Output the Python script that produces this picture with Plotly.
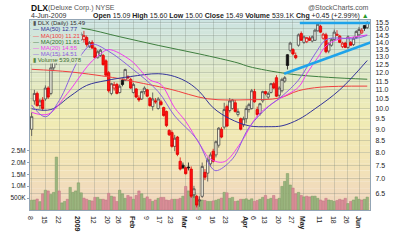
import math
import plotly.graph_objects as go

# ---------------- data ----------------
tick_idx = [0, 5, 10, 17, 23, 28, 32, 37, 42, 47, 51, 56, 61, 66, 71, 78, 81, 85, 90, 95, 99, 105, 110, 115, 119]
tick_text = ['8', '15', '22', '<b>2009</b>', '12', '20', '26', '<b>Feb</b>', '9', '17', '23', '<b>Mar</b>',
             '9', '16', '23', '<b>Apr</b>', '6', '13', '20', '27', '<b>May</b>', '11', '18', '26', '<b>Jun</b>']

opens = [9.0, 10.4, 10.8, 10.15, 10.45, 10.5, 11.1, 10.8, 12.3, 12.7, 13.2, 12.9, 13.2, 13.5, 13.0, 13.5, 13.8,
         14.0, 14.2, 14.2, 14.35, 13.7, 14.0, 13.6, 12.95, 13.1, 13.1, 12.75, 12.0, 10.8, 11.1, 11.3, 10.85, 11.55,
         11.55, 11.75, 11.6, 10.85, 11.05, 10.55, 10.5, 10.9, 11.0, 10.55, 10.1, 10.4, 10.0, 10.35, 10.05, 9.85,
         8.95, 8.85, 8.25, 8.65, 7.65, 7.5, 7.4, 7.43, 7.35, 6.45, 6.4, 6.25, 6.4, 7.23, 7.2, 7.55, 8.05, 7.9, 8.3,
         9.0, 9.1, 10.1, 9.9, 10.0, 10.3, 9.7, 9.5, 9.2, 9.5, 9.95, 10.0, 10.9, 9.95, 9.75, 10.4, 10.9, 10.6,
         10.85, 11.35, 11.7, 10.7, 10.95, 11.5, 13.15, 13.45, 13.5, 13.1, 13.8, 14.65, 14.0, 14.05, 14.3, 14.1,
         14.15, 14.85, 15.2, 14.3, 14.55, 13.4, 13.8, 14.2, 14.5, 14.45, 13.7, 13.95, 13.65, 14.0, 13.85, 14.35,
         14.55, 14.7, 15.25, 15.09]
highs = [9.8, 11.0, 10.9, 10.5, 10.6, 11.25, 11.2, 12.6, 12.9, 13.4, 13.5, 13.3, 13.6, 13.6, 13.6, 13.9, 14.2,
         14.6, 14.75, 14.85, 14.5, 14.1, 14.15, 13.7, 13.45, 13.55, 13.2, 12.85, 12.1, 11.4, 11.45, 11.4, 11.3,
         11.65, 12.25, 11.85, 11.7, 11.4, 11.1, 10.7, 10.95, 11.2, 11.05, 10.6, 10.85, 10.55, 10.6, 10.45, 10.1,
         9.9, 9.0, 8.95, 8.75, 8.7, 7.8, 7.6, 7.45, 7.6, 7.45, 6.75, 6.45, 6.4, 7.6, 7.35, 7.8, 8.0, 8.15, 8.5,
         9.1, 9.1, 10.3, 10.2, 10.55, 10.5, 10.45, 10.0, 9.55, 9.6, 10.15, 10.3, 11.05, 11.05, 10.1, 10.3, 10.95,
         10.95, 10.9, 11.4, 11.45, 11.85, 11.2, 11.7, 11.8, 13.2, 14.05, 13.6, 13.3, 14.65, 14.8, 14.5, 14.4,
         14.45, 14.5, 15.0, 15.5, 15.3, 14.7, 14.7, 14.0, 14.3, 14.95, 14.9, 14.55, 14.05, 14.05, 14.5, 14.1,
         14.4, 14.9, 15.15, 15.05, 15.3, 15.60]
lows = [8.7, 10.2, 10.1, 10.0, 9.9, 10.4, 10.5, 10.7, 12.1, 12.5, 12.8, 12.8, 13.1, 12.9, 12.9, 13.4, 13.6,
        13.9, 14.1, 14.0, 13.7, 13.6, 13.55, 12.9, 12.9, 13.0, 12.45, 11.8, 10.85, 10.7, 10.95, 10.75, 10.8,
        11.2, 11.5, 11.6, 11.05, 10.8, 10.55, 10.35, 10.45, 10.75, 10.6, 10.1, 9.9, 10.25, 9.95, 10.15, 9.6,
        9.1, 8.7, 8.2, 8.05, 7.85, 7.3, 7.35, 7.15, 7.3, 6.35, 6.35, 6.05, 6.07, 6.35, 6.95, 6.9, 7.45, 7.6, 7.8,
        8.2, 8.6, 9.0, 9.1, 9.8, 9.95, 9.8, 9.6, 8.95, 9.1, 9.3, 9.8, 9.95, 10.3, 9.6, 9.65, 10.3, 10.7, 10.5,
        10.8, 11.05, 10.6, 10.55, 10.85, 11.4, 12.2, 13.3, 13.1, 12.85, 13.7, 14.1, 13.9, 13.95, 14.1, 14.0,
        14.1, 14.8, 14.7, 14.2, 13.25, 13.25, 13.7, 14.1, 14.45, 13.95, 13.6, 13.6, 13.55, 13.75, 13.75, 14.25,
        14.45, 14.6, 14.85, 15.00]
closes = [9.6, 10.8, 10.15, 10.4, 10.0, 11.1, 10.6, 12.3, 12.7, 13.2, 12.9, 13.2, 13.5, 13.0, 13.5, 13.8, 14.1,
          14.5, 14.6, 14.5, 13.85, 14.0, 13.6, 12.97, 13.35, 13.45, 12.5, 11.85, 10.95, 11.35, 11.3, 10.8, 11.2,
          11.3, 12.2, 11.7, 11.1, 11.3, 10.6, 10.45, 10.9, 11.1, 10.65, 10.15, 10.5, 10.35, 10.5, 10.2, 9.65,
          9.17, 8.75, 8.25, 8.6, 7.92, 7.35, 7.4, 7.18, 7.4, 6.4, 6.65, 6.12, 6.28, 7.45, 7.05, 7.7, 7.9, 7.65,
          8.45, 9.05, 8.65, 9.95, 9.15, 10.4, 10.45, 9.85, 9.85, 9.0, 9.5, 10.0, 10.2, 10.95, 10.35, 9.7, 10.25,
          10.9, 10.8, 10.8, 11.35, 11.1, 10.65, 11.1, 11.6, 11.7, 12.45, 13.95, 13.2, 12.95, 14.55, 14.15, 14.4,
          14.35, 14.15, 14.4, 14.9, 15.35, 14.75, 14.6, 13.35, 13.9, 14.2, 14.75, 14.6, 14.0, 13.95, 13.65, 14.4,
          13.8, 14.3, 14.8, 14.95, 14.9, 15.04, 15.49]
volumes = [410, 420, 460, 350, 680, 830, 800, 650, 740, 2220, 800, 300, 360, 450, 950, 740, 800, 1140, 720,
           500, 450, 400, 380, 530, 530, 450, 450, 420, 700, 580, 550, 360, 830, 680, 490, 610, 550, 450, 610,
           800, 680, 490, 550, 450, 360, 420, 490, 530, 530, 420, 400, 450, 450, 450, 490, 580, 990, 800, 550,
           750, 500, 420, 420, 400, 360, 360, 380, 410, 450, 500, 740, 720, 490, 530, 360, 380, 450, 450, 470,
           420, 470, 360, 400, 450, 530, 610, 450, 490, 610, 450, 490, 990, 1200, 1530, 1050, 920, 680, 740, 610,
           550, 580, 550, 580, 580, 490, 420, 380, 490, 420, 400, 360, 400, 450, 420, 490, 270, 360, 420, 550,
           450, 420, 450, 539.078]  # thousands of shares

ma50_idx = [0, 7, 14, 20, 27, 36, 46, 52, 57, 61, 66, 72, 79, 86, 91, 97, 103, 112, 122]
ma50_val = [9.99, 9.95, 10.65, 11.25, 11.53, 11.77, 11.94, 11.77, 11.40, 10.90, 10.04, 9.50, 9.16, 9.12, 9.16,
            9.46, 9.99, 11.0, 12.77]
ma100_idx = [0, 14, 31, 36, 50, 64, 79, 90, 97, 105, 122]
ma100_val = [12.21, 12.05, 11.67, 11.51, 11.05, 10.51, 10.46, 10.55, 10.95, 11.15, 11.21]
ma200_idx = [0, 18, 32, 46, 61, 75, 79, 93, 108, 122]
ma200_val = [15.35, 15.06, 14.41, 13.79, 13.20, 12.61, 12.38, 11.94, 11.72, 11.61]
ma20_idx = [0, 6, 13, 21, 25, 28, 36, 43, 47, 52, 56, 61, 65, 70, 76, 82, 89, 97, 100, 104, 107, 111, 115, 122]
ma20_val = [9.81, 9.72, 10.80, 12.55, 13.2, 13.5, 12.78, 11.57, 11.31, 10.04, 9.37, 8.36, 7.74, 7.63, 8.40,
            9.63, 10.41, 11.15, 11.94, 12.96, 13.75, 14.19, 14.32, 14.55]
ma15_idx = [0, 5, 10, 16, 19, 22, 28, 36, 46, 52, 60, 65, 67, 73, 79, 86, 91, 97, 103, 107, 111, 117, 122]
ma15_val = [10.18, 9.59, 10.41, 12.49, 13.38, 13.87, 13.38, 12.32, 10.90, 9.63, 8.56, 7.46, 7.29, 7.74, 9.08,
            10.09, 10.65, 11.56, 13.20, 14.19, 14.32, 14.26, 14.51]

trend_top_idx = [97.5, 123.2]
trend_top_val = [15.45, 15.45]
trend_up_idx = [91.8, 123.2]
trend_up_val = [11.94, 14.0]

price_ticks = [6.5, 7.0, 7.5, 8.0, 8.5, 9.0, 9.5, 10.0, 10.5, 11.0, 11.5, 12.0, 12.5, 13.0, 13.5, 14.0,
               14.5, 15.0, 15.5]
vol_ticks = [500000, 1000000, 1500000, 2000000, 2500000]
vol_tick_text = ['500K', '1.0M', '1.5M', '2.0M', '2.5M']

# ---------------- geometry helpers ----------------
W, H = 400, 243
ML, MR, MT, MB = 29, 27, 20, 11
PW, PH = W - ML - MR, H - MT - MB


def px(x):
    return (x - ML) / PW


def py(y):
    return (H - MB - y) / PH


FONT = 'Liberation Sans, Arial, sans-serif'

n = len(closes)
idx = list(range(n))
prev = [opens[0]] + closes[:-1]
is_hollow = [c >= o for o, c in zip(opens, closes)]
is_up = [c >= p for p, c in zip(prev, closes)]

fig = go.Figure()

# volume (base axis, drawn beneath the price traces)
vol_colors = ['#9bb57f' if u else '#d98d97' for u in is_up]
vol_edges = ['#7a9a60' if u else '#c07480' for u in is_up]
fig.add_trace(go.Bar(x=idx, y=[v * 1000 for v in volumes], marker=dict(color=vol_colors,
              line=dict(color=vol_edges, width=0.5)), yaxis='y', hoverinfo='skip', showlegend=False))


def candles(mask, line_color, fill_color):
    def sel(arr):
        return [v if m else None for v, m in zip(arr, mask)]
    style = dict(line=dict(color=line_color, width=0.8), fillcolor=fill_color)
    return go.Candlestick(x=idx, open=sel(opens), high=sel(highs), low=sel(lows), close=sel(closes),
                          increasing=style, decreasing=style, whiskerwidth=0, yaxis='y2',
                          hoverinfo='skip', showlegend=False)


fig.add_trace(candles([h and u for h, u in zip(is_hollow, is_up)], '#4a4a4a', 'rgba(250,250,238,0.7)'))
fig.add_trace(candles([h and not u for h, u in zip(is_hollow, is_up)], '#e01010', 'rgba(252,240,232,0.7)'))
fig.add_trace(candles([(not h) and u for h, u in zip(is_hollow, is_up)], '#111111', '#111111'))
fig.add_trace(candles([(not h) and (not u) for h, u in zip(is_hollow, is_up)], '#e00000', '#ff1010'))

ma_specs = [
    (ma200_idx, ma200_val, '#3f7f3f'),
    (ma100_idx, ma100_val, '#f04040'),
    (ma50_idx, ma50_val, '#34349a'),
    (ma20_idx, ma20_val, '#f03cf0'),
    (ma15_idx, ma15_val, '#8a62e0'),
]
for xs, ys, col in ma_specs:
    fig.add_trace(go.Scatter(x=xs, y=ys, mode='lines', yaxis='y2', hoverinfo='skip', showlegend=False,
                             line=dict(color=col, width=1, shape='spline', smoothing=1.0)))

for xs, ys in [(trend_top_idx, trend_top_val), (trend_up_idx, trend_up_val)]:
    fig.add_trace(go.Scatter(x=xs, y=ys, mode='lines', yaxis='y2', hoverinfo='skip', showlegend=False,
                             line=dict(color='#1ea3ea', width=2.6)))

# ---------------- background gradient ----------------
stops = [(0.0, (204, 228, 226)), (0.25, (222, 232, 202)), (0.5, (240, 236, 180)),
         (0.75, (242, 228, 182)), (1.0, (240, 213, 192))]


def grad(t):
    for (t0, c0), (t1, c1) in zip(stops[:-1], stops[1:]):
        if t <= t1:
            f = (t - t0) / (t1 - t0)
            return tuple(round(a + (b - a) * f) for a, b in zip(c0, c1))
    return stops[-1][1]


shapes = []
NSTRIP = 53
leg_right, leg_bottom = 81, 68.5
for k in range(NSTRIP):
    y0 = MT + PH * k / NSTRIP
    y1 = MT + PH * (k + 1) / NSTRIP
    c = grad((k + 0.5) / NSTRIP)
    col = 'rgb(%d,%d,%d)' % c
    shapes.append(dict(type='rect', xref='paper', yref='paper', x0=0, x1=1, y0=py(y1), y1=py(y0) + 0.001,
                       fillcolor=col, line=dict(width=0), layer='below'))
    if y0 < leg_bottom:
        shapes.append(dict(type='rect', xref='paper', yref='paper', x0=0.0015, x1=px(leg_right),
                           y0=py(min(y1, leg_bottom)), y1=min(py(y0) + 0.001, 0.998),
                           fillcolor=col, line=dict(width=0), layer='above'))

# ---------------- annotations ----------------
ann = []


def text(x, y, s, size=7, color='#222', anchor='left', bold=False):
    ann.append(dict(xref='paper', yref='paper', x=px(x), y=py(y), text=('<b>%s</b>' % s) if bold else s,
                    showarrow=False, xanchor=anchor, yanchor='middle',
                    font=dict(family=FONT, size=size, color=color)))


text(27.5, 6.5, 'DLX', size=8.5, color='#111', bold=True)
text(45, 7, '(Deluxe Corp.) NYSE', size=7, color='#555')
text(374, 6.5, '@StockCharts.com', size=7, color='#555', anchor='right')
text(27.5, 15, '4-Jun-2009', size=7, color='#333')
chg = closes[-1] - closes[-2]
row2 = ('<b>Open</b> %.2f <b>High</b> %.2f <b>Low</b> %.2f <b>Close</b> %.2f <b>Volume</b> %.1fK '
        '<b>Chg</b> %+.2f (%+.2f%%) <span style="color:#2a9a2a">▲</span>') % (
    opens[-1], highs[-1], lows[-1], closes[-1], volumes[-1], chg, chg / closes[-2] * 100)
text(374, 15, row2, size=7, color='#222', anchor='right')

LS = 6
legend_rows = [
    (23.5, '<span style="color:#555">▮</span> DLX (Daily) %.2f' % closes[-1], '#333'),
    (30.4, '— MA(50) %.2f' % ma50_val[-1], '#34349a'),
    (37.3, '— MA(100) %.2f' % ma100_val[-1], '#f04040'),
    (44.2, '— MA(200) %.2f' % ma200_val[-1], '#2f6f2f'),
    (51.1, '— MA(20) %.2f' % ma20_val[-1], '#f03cf0'),
    (58.0, '— MA(15) %.2f' % ma15_val[-1], '#8a62e0'),
    (64.9, '<span style="color:#5a8a40">▮</span> Volume {:,}'.format(round(volumes[-1] * 1000)), '#3f6f2f'),
]
for yy, s, col in legend_rows:
    text(30, yy, s, size=LS, color=col)

grid = 'rgba(120,130,120,0.28)'
fig.update_layout(
    width=W, height=H, margin=dict(l=ML, r=MR, t=MT, b=MB, pad=0),
    paper_bgcolor='white', plot_bgcolor='rgba(0,0,0,0)', showlegend=False,
    bargap=0.12, boxgap=0.15, boxgroupgap=0,
    font=dict(family=FONT, size=7, color='#222'),
    xaxis=dict(range=[-0.6, 123.0], tickvals=tick_idx, ticktext=tick_text, showgrid=True, gridcolor=grid,
               gridwidth=1, zeroline=False, ticks='', tickfont=dict(size=7, color='#222'),
               showline=True, linecolor='#93a5b5', linewidth=1, mirror=True, rangeslider=dict(visible=False),
               fixedrange=True),
    yaxis=dict(range=[0, 7.97e6], side='left', tickvals=vol_ticks, ticktext=vol_tick_text, showgrid=False,
               zeroline=False, ticks='outside', ticklen=2, tickcolor='#93a5b5', tickfont=dict(size=6.5, color='#222'),
               showline=True, linecolor='#93a5b5', fixedrange=True),
    yaxis2=dict(type='log', range=[math.log10(5.97), math.log10(15.69)], overlaying='y', side='right',
                tickvals=price_ticks, ticktext=['%.1f' % v for v in price_ticks], showgrid=True,
                gridcolor=grid, gridwidth=1, zeroline=False, ticks='', ticklabelstandoff=3,
                tickfont=dict(size=7, color='#222'), showline=True, linecolor='#93a5b5', fixedrange=True),
    shapes=shapes, annotations=ann,
)

fig.write_html('out.html')
